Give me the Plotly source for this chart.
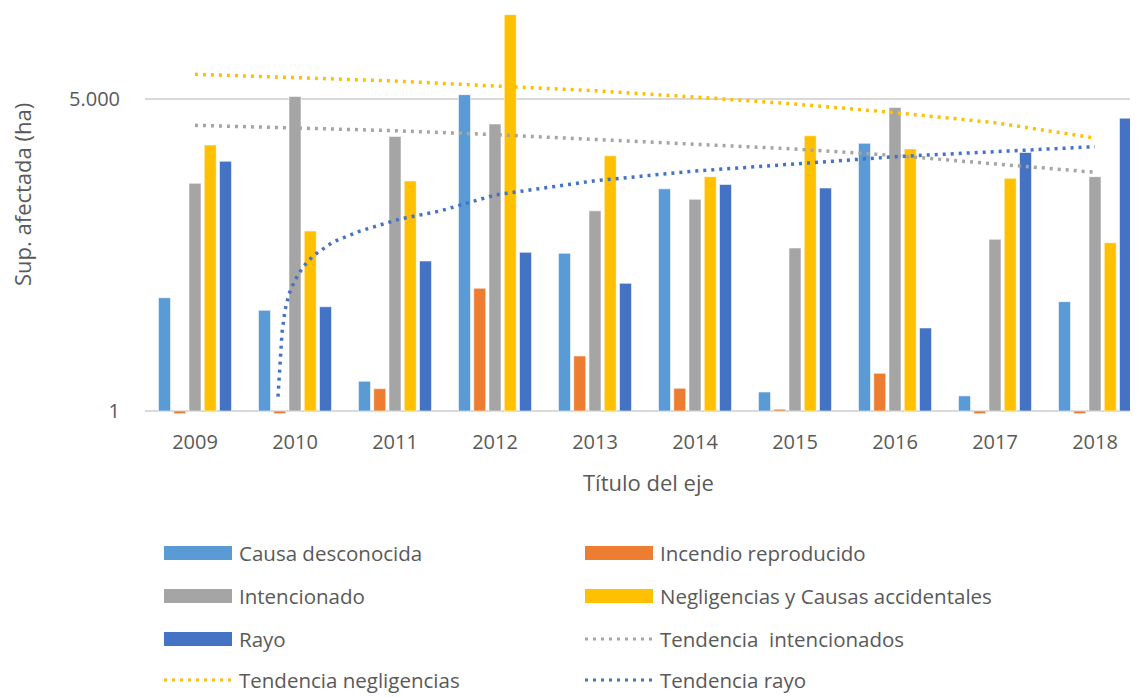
import plotly.graph_objects as go

years = [2009, 2010, 2011, 2012, 2013, 2014, 2015, 2016, 2017, 2018]

causa_desconocida = [22, 15.6, 2.25, 5630, 74, 430, 1.68, 1490, 1.51, 19.8]
incendio_reproducido = [0.93, 0.93, 1.84, 28.5, 4.49, 1.86, 1.05, 2.8, 0.93, 0.93]
intencionado = [500, 5360, 1800, 2526, 236, 323, 85.6, 3965, 108.5, 600]
negligencias = [1424, 136, 533, 50000, 1060, 600, 1835, 1280, 573, 98.9]
rayo = [912, 17.2, 60, 76, 32.6, 485, 440, 9.64, 1160, 2960]

# trend lines
tend_int_x = years
tend_int = [2438, 2284, 2104, 1888, 1664, 1452, 1277, 1069, 848, 676]
tend_neg_x = years
tend_neg = [9815, 8940, 8170, 7130, 6270, 5280, 4360, 3440, 2618, 1725]
tend_rayo_x = [2009.83, 2009.85, 2009.87, 2009.90, 2009.94, 2010.0, 2010.08, 2010.18,
               2010.38, 2010.65, 2011.05, 2011.45, 2012, 2013, 2014, 2015, 2016, 2017, 2018]
tend_rayo = [1.48, 4.37, 8.4, 15.7, 24.4, 35.7, 51, 68.8, 101, 136, 189, 235,
             364, 537, 700, 848, 1035, 1186, 1360]

C_CD = "#5B9BD5"
C_IR = "#ED7D31"
C_INT = "#A5A5A5"
C_NEG = "#FFC000"
C_RAYO = "#4472C4"
TXT = "#595959"
FONT = "Open Sans"

# page has an 8px body margin, so the figure is drawn 8px in and 8px down
OFF = 8
W, H = 1138 - OFF, 697 - OFF
L, R, T, B = 145 - OFF, 0, 0, H - (414 - OFF)
PW = W - L - R
PH = H - T - B
DEC = 84.35  # px per decade


def px(x):
    return (x - OFF - L) / PW


def py(y):
    return (H - B - (y - OFF)) / PH


fig = go.Figure()

bars = [
    ("Causa desconocida", causa_desconocida, C_CD),
    ("Incendio reproducido", incendio_reproducido, C_IR),
    ("Intencionado", intencionado, C_INT),
    ("Negligencias y Causas accidentales", negligencias, C_NEG),
    ("Rayo", rayo, C_RAYO),
]
for name, vals, col in bars:
    # bars grow from 1 (the axis crossing), like the original
    fig.add_trace(go.Bar(
        x=years, y=[v - 1 for v in vals], name=name, base=1,
        marker=dict(color=col, line=dict(color="rgba(255,255,255,0.55)", width=1)),
    ))

trends = [
    ("Tendencia  intencionados", tend_int_x, tend_int, C_INT),
    ("Tendencia negligencias", tend_neg_x, tend_neg, C_NEG),
    ("Tendencia rayo", tend_rayo_x, tend_rayo, C_RAYO),
]
for name, xs, vals, col in trends:
    fig.add_trace(go.Scatter(
        x=xs, y=vals, name=name, mode="lines",
        line=dict(color=col, width=3.5, dash="3px,5px"),
    ))

ybot = -3 / DEC
ytop = ybot + PH / DEC

fig.update_layout(
    width=W, height=H,
    margin=dict(l=L, r=R, t=T, b=B, autoexpand=False),
    paper_bgcolor="white", plot_bgcolor="white",
    barmode="group", bargap=0.2375, bargroupgap=0.213,
    showlegend=False,
    font=dict(family=FONT, size=20, color=TXT),
)
fig.update_xaxes(
    range=[2008.5, 2008.5 + PW / 100], tickvals=years, ticktext=[str(y) for y in years],
    showgrid=False, zeroline=False, showline=False, ticks="",
    ticklabelstandoff=14, tickfont=dict(size=20, color=TXT),
)
fig.update_yaxes(
    type="log", range=[ybot, ytop], tickvals=[1, 5000], ticktext=["1", "5.000"],
    showgrid=True, gridcolor="#D9D9D9", gridwidth=2, zeroline=False, showline=False,
    ticks="", ticklabelstandoff=24, tickfont=dict(size=20, color=TXT),
)

ann = []
shapes = []
ann.append(dict(x=px(22), y=py(195), xref="paper", yref="paper", text="Sup. afectada (ha)",
                textangle=-90, showarrow=False, font=dict(size=22, color=TXT),
                xanchor="center", yanchor="middle"))
ann.append(dict(x=px(648), y=py(482), xref="paper", yref="paper", text="Título del eje",
                showarrow=False, font=dict(size=22, color=TXT),
                xanchor="center", yanchor="middle"))

legend_items = [
    ("Causa desconocida", C_CD, "bar", 0, 0),
    ("Incendio reproducido", C_IR, "bar", 1, 0),
    ("Intencionado", C_INT, "bar", 0, 1),
    ("Negligencias y Causas accidentales", C_NEG, "bar", 1, 1),
    ("Rayo", C_RAYO, "bar", 0, 2),
    ("Tendencia  intencionados", C_INT, "line", 1, 2),
    ("Tendencia negligencias", C_NEG, "line", 0, 3),
    ("Tendencia rayo", C_RAYO, "line", 1, 3),
]
col_x = [164, 585]
row_y = [553, 596, 639, 680]
for text, col, kind, c, r in legend_items:
    x0 = col_x[c]
    yc = row_y[r]
    if kind == "bar":
        shapes.append(dict(type="rect", xref="paper", yref="paper",
                           x0=px(x0), x1=px(x0 + 68), y0=py(yc - 7), y1=py(yc + 7),
                           fillcolor=col, line=dict(width=0)))
    else:
        shapes.append(dict(type="line", xref="paper", yref="paper",
                           x0=px(x0), x1=px(x0 + 68), y0=py(yc), y1=py(yc),
                           line=dict(color=col, width=3, dash="3px,5px")))
    ann.append(dict(x=px(x0 + 73), y=py(yc), xref="paper", yref="paper", text=text,
                    showarrow=False, font=dict(size=20.5, color=TXT),
                    xanchor="left", yanchor="middle"))

fig.update_layout(annotations=ann, shapes=shapes)

fig.write_html("out.html")
